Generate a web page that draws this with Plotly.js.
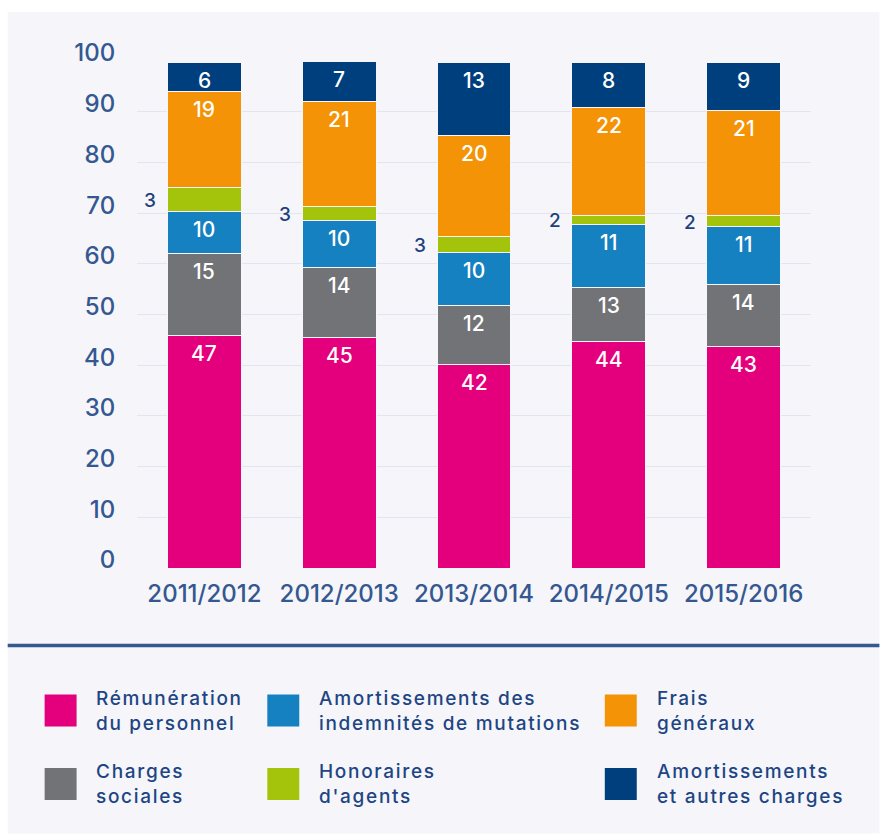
<!DOCTYPE html>
<html>
<head>
<meta charset="utf-8">
<script src="https://cdn.plot.ly/plotly-3.0.1.min.js"></script>
<style>
html,body{margin:0;padding:0;background:#ffffff;}
#chart{width:880px;height:834px;}
</style>
</head>
<body>
<div id="chart"></div>
<script>
// ---- data ----
var categories = ['2011/2012','2012/2013','2013/2014','2014/2015','2015/2016'];
// drawn segment heights
var remuneration = [45.8, 45.4, 40.1, 44.7, 43.7];
var chargesSociales = [16.3, 13.8, 11.7, 10.7, 12.2];
var amortIndemnites = [8.3, 9.4, 10.5, 12.4, 11.4];
var honoraires = [4.7, 2.7, 3.1, 1.7, 2.2];
var fraisGeneraux = [18.8, 20.8, 19.9, 21.3, 20.8];
var amortAutres = [5.8, 7.8, 14.4, 8.9, 9.4];
// printed labels
var labRemuneration = ['47','45','42','44','43'];
var labCharges = ['15','14','12','13','14'];
var labAmortIndem = ['10','10','10','11','11'];
var labHonoraires = ['3','3','3','2','2'];
var labFrais = ['19','21','20','22','21'];
var labAmortAutres = ['6','7','13','8','9'];
var yTicks = [0,10,20,30,40,50,60,70,80,90,100];

var seriesNames = [
  'Rémunération<br>du personnel',
  'Charges<br>sociales',
  'Amortissements des<br>indemnités de mutations',
  'Honoraires<br>d\'agents',
  'Frais<br>généraux',
  'Amortissements<br>et autres charges'
];
var colors = ['#e4007c','#727376','#1581c1','#a4c40b','#f39305','#003f7d'];
var values = [remuneration, chargesSociales, amortIndemnites, honoraires, fraisGeneraux, amortAutres];
var labels = [labRemuneration, labCharges, labAmortIndem, labHonoraires, labFrais, labAmortAutres];

var FONT = 'Inter, Open Sans, sans-serif';
var TICKCOL = '#34588f';
var TEXTCOL = '#1d4583';

// ---- layout geometry ----
var W = 880, H = 834;
var L = 136.5, R = 811.5, T = 60.7, B = 568.3;
function px(x){ return (x - L) / (R - L); }
function py(y){ return (B - y) / (B - T); }

var traces = values.map(function(v, i){
  return {
    type: 'bar', x: categories, y: v, name: seriesNames[i],
    marker: {color: colors[i], line: {color: '#f5f5fa', width: 1}},
    hoverinfo: 'x+y', showlegend: false
  };
});

var annotations = [];
var cum = [0,0,0,0,0];
values.forEach(function(v, i){
  categories.forEach(function(c, j){
    var top = cum[j] + v[j];
    if (i === 3) {
      annotations.push({
        x: c, y: cum[j] + v[j] / 2, xref: 'x', yref: 'y', text: labels[i][j],
        showarrow: false, xanchor: 'right', yanchor: 'middle', xshift: -46, yshift: -1,
        font: {family: FONT, size: 19, color: '#1d3f7c', weight: 500}
      });
    } else {
      annotations.push({
        x: c, y: top, xref: 'x', yref: 'y', text: labels[i][j],
        showarrow: false, xanchor: 'center', yanchor: 'middle', yshift: -18,
        font: {family: FONT, size: 21, color: '#ffffff', weight: 500}
      });
    }
    cum[j] = top;
  });
});

// legend
var shapes = [
  {type: 'rect', xref: 'paper', yref: 'paper', x0: px(7), x1: px(880), y0: py(12), y1: py(834),
   fillcolor: '#f5f5fa', line: {width: 0}, layer: 'below'},
  {type: 'line', xref: 'paper', yref: 'paper', x0: px(7), x1: px(880), y0: py(646), y1: py(646),
   line: {color: '#35598f', width: 3.5}}
];
var legendStart = annotations.length;
var legendOrder = [0, 2, 4, 1, 3, 5];
var sqX = [44, 267, 605];
var txX = [93, 317, 655];
var rowY = [711, 784.5];
legendOrder.forEach(function(si, k){
  var col = k % 3, row = Math.floor(k / 3);
  var cy = rowY[row];
  shapes.push({type: 'rect', xref: 'paper', yref: 'paper',
    x0: px(sqX[col]), x1: px(sqX[col] + 32), y0: py(cy - 16), y1: py(cy + 16),
    fillcolor: colors[si], line: {width: 0}});
  annotations.push({xref: 'paper', yref: 'paper', x: px(txX[col]), y: py(cy),
    xanchor: 'left', yanchor: 'middle', align: 'left', showarrow: false,
    text: seriesNames[si], font: {family: FONT, size: 19, color: TEXTCOL, weight: 500}});
});

var layout = {
  width: W, height: H,
  margin: {l: L, r: W - R, t: T, b: H - B, pad: 0},
  paper_bgcolor: '#ffffff', plot_bgcolor: 'rgba(0,0,0,0)',
  barmode: 'stack', bargap: 0.452,
  showlegend: false,
  font: {family: FONT},
  xaxis: {
    type: 'category', showgrid: false, zeroline: false, showline: false,
    ticks: 'outside', ticklen: 4, tickcolor: 'rgba(0,0,0,0)',
    tickfont: {family: FONT, size: 24, color: TICKCOL, weight: 500}
  },
  yaxis: {
    range: [0, 100], tickvals: yTicks, ticktext: yTicks.map(String),
    showgrid: true, gridcolor: '#e2e5f0', gridwidth: 1, zeroline: false, showline: false,
    ticks: 'outside', ticklen: 16, tickcolor: 'rgba(0,0,0,0)', ticklabelshift: -8,
    tickfont: {family: FONT, size: 24, color: TICKCOL, weight: 500}
  },
  shapes: shapes,
  annotations: annotations
};

Plotly.newPlot('chart', traces, layout, {displayModeBar: false, staticPlot: true}).then(function(gd){
  var anns = gd.querySelectorAll('.annotation');
  anns.forEach(function(a){
    var idx = +a.getAttribute('data-index');
    if (idx >= legendStart) {
      a.querySelectorAll('text').forEach(function(t){ t.style.letterSpacing = '1.7px'; });
    }
  });
});
</script>
</body>
</html>
